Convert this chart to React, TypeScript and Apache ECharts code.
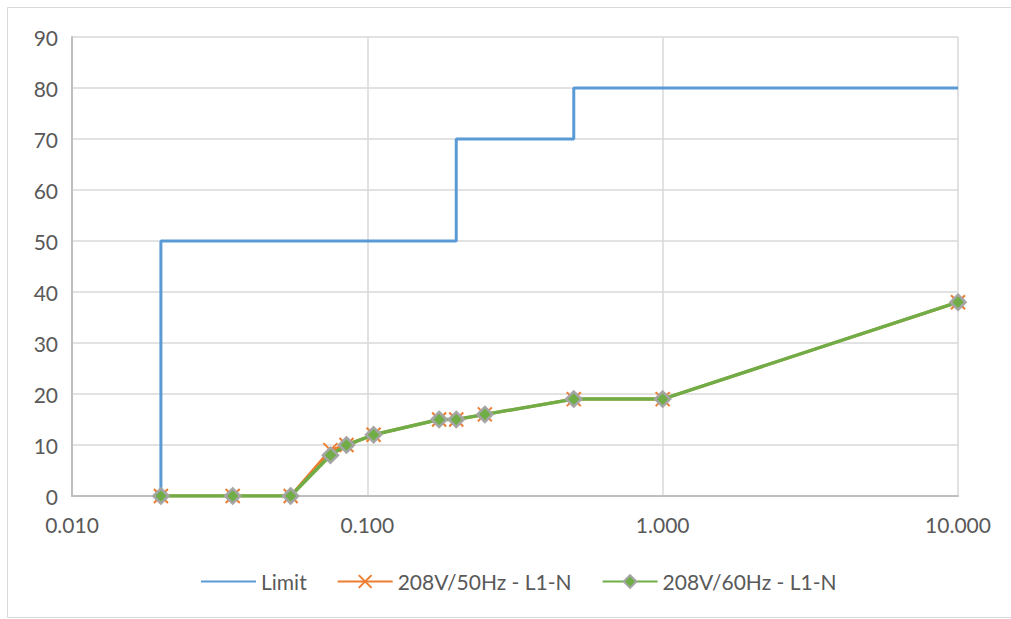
import React, { useEffect, useRef } from "react";
import * as echarts from "echarts";

const limitX = [0.02, 0.02, 0.2, 0.2, 0.5, 0.5, 10];
const limitY = [0, 50, 50, 70, 70, 80, 80];

const measX = [0.02, 0.035, 0.055, 0.075, 0.085, 0.105, 0.175, 0.2, 0.25, 0.5, 1.0, 10];
const y50Hz = [0, 0, 0, 9, 10, 12, 15, 15, 16, 19, 19, 38];
const y60Hz = [0, 0, 0, 8, 10, 12, 15, 15, 16, 19, 19, 38];

const seriesNames = ["Limit", "208V/50Hz - L1-N", "208V/60Hz - L1-N"];

const pairs = (xs: number[], ys: number[]) => xs.map((x, i) => [x, ys[i]]);

export default function App() {
  const ref = useRef<HTMLDivElement>(null);
  useEffect(() => {
    document.body.style.margin = "0";
    const chart = echarts.init(ref.current!, null, { renderer: "svg" });
    const font = "Lato, 'Open Sans', sans-serif";
    chart.setOption({
      animation: false,
      backgroundColor: "#ffffff",
      textStyle: { fontFamily: font },
      graphic: [
        {
          type: "rect",
          shape: { x: 7.5, y: 7.5, width: 1010, height: 610 },
          style: { fill: "none", stroke: "#d9d9d9", lineWidth: 1 },
          silent: true,
        },
      ],
      grid: { left: 72, right: 53, top: 37, bottom: 123, containLabel: false },
      legend: {
        bottom: 22,
        left: 195,
        itemWidth: 55,
        itemHeight: 16,
        itemGap: 30,
        textStyle: { color: "#595959", fontSize: 21, fontFamily: font },
        data: [
          { name: seriesNames[0], itemStyle: { opacity: 0 } },
          { name: seriesNames[1] },
          { name: seriesNames[2] },
        ],
      },
      xAxis: {
        type: "log",
        logBase: 10,
        min: 0.01,
        max: 10,
        axisLine: { show: true, lineStyle: { color: "#bfbfbf", width: 2 } },
        axisTick: { show: false },
        splitLine: { show: true, lineStyle: { color: "#d9d9d9", width: 1.5 } },
        minorTick: { show: false },
        axisLabel: {
          color: "#595959",
          fontSize: 21,
          margin: 18,
          formatter: (v: number) => v.toFixed(3),
        },
      },
      yAxis: {
        type: "value",
        min: 0,
        max: 90,
        interval: 10,
        axisLine: { show: true, lineStyle: { color: "#bfbfbf", width: 2 } },
        axisTick: { show: false },
        splitLine: { show: true, lineStyle: { color: "#d9d9d9", width: 1.5 } },
        axisLabel: { color: "#595959", fontSize: 21, margin: 14 },
      },
      series: [
        {
          name: seriesNames[0],
          type: "line",
          data: pairs(limitX, limitY),
          symbol: "none",
          lineStyle: { color: "#5b9bd5", width: 3 },
          itemStyle: { color: "#5b9bd5" },
          z: 2,
        },
        {
          name: seriesNames[1],
          type: "line",
          data: pairs(measX, y50Hz),
          symbol: "path://M0,0L10,10M10,0L0,10",
          symbolSize: 14,
          lineStyle: { color: "#ed7d31", width: 3 },
          itemStyle: { color: "#ed7d31", borderColor: "#ed7d31", borderWidth: 2 },
          z: 3,
        },
        {
          name: seriesNames[2],
          type: "line",
          data: pairs(measX, y60Hz),
          symbol: "diamond",
          symbolSize: 15,
          lineStyle: { color: "#70ad47", width: 3.5 },
          itemStyle: { color: "#70ad47", borderColor: "#a5a5a5", borderWidth: 2.5 },
          z: 4,
        },
      ],
    });
    return () => chart.dispose();
  }, []);
  return <div ref={ref} style={{ width: 1011, height: 619 }} />;
}
